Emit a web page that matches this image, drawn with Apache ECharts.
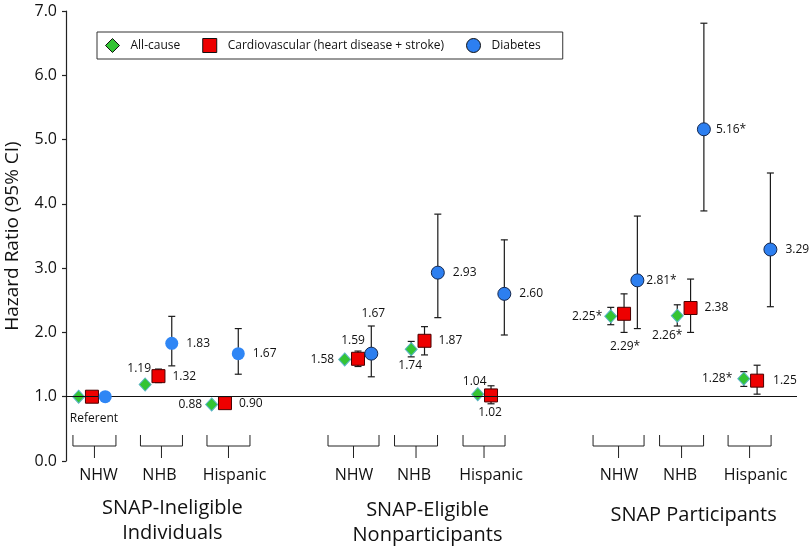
<!DOCTYPE html>
<html><head><meta charset="utf-8">
<script src="https://cdn.jsdelivr.net/npm/echarts@6/dist/echarts.min.js"></script>
<style>html,body{margin:0;padding:0;background:#fff}#c{width:810px;height:549px}</style>
</head><body><div id="c"></div>
<script>
// ---------- data ----------
const groups = ['SNAP-Ineligible\nIndividuals', 'SNAP-Eligible\nNonparticipants', 'SNAP Participants'];
const subgroups = ['NHW', 'NHB', 'Hispanic'];
const seriesNames = ['All-cause', 'Cardiovascular (heart disease + stroke)', 'Diabetes'];
const yTickLabels = ['0.0', '1.0', '2.0', '3.0', '4.0', '5.0', '6.0', '7.0'];
const referentText = 'Referent';

// cells ordered: group1 NHW, NHB, Hispanic, group2 ..., group3 ...
const allCause   = [1.00, 1.19, 0.88, 1.58, 1.74, 1.04, 2.25, 2.26, 1.28];
const allCauseLo = [null, null, null, null, 1.62, null, 2.12, 2.10, 1.16];
const allCauseHi = [null, null, null, null, 1.86, null, 2.39, 2.43, 1.39];
const allCauseSig = [0, 0, 0, 0, 0, 0, 1, 1, 1];

const cardio   = [1.00, 1.32, 0.90, 1.59, 1.87, 1.02, 2.29, 2.38, 1.25];
const cardioLo = [null, 1.22, null, 1.47, 1.65, 0.89, 2.00, 2.00, 1.04];
const cardioHi = [null, 1.43, null, 1.71, 2.09, 1.17, 2.60, 2.83, 1.49];
const cardioSig = [0, 0, 0, 0, 0, 0, 1, 0, 0];

const diabetes   = [1.00, 1.83, 1.67, 1.67, 2.93, 2.60, 2.81, 5.16, 3.29];
const diabetesLo = [null, 1.48, 1.35, 1.31, 2.23, 1.96, 2.06, 3.89, 2.40];
const diabetesHi = [null, 2.25, 2.06, 2.10, 3.84, 3.44, 3.81, 6.81, 4.48];
const diabetesSig = [0, 0, 0, 0, 0, 0, 1, 1, 0];

// ---------- layout (not data) ----------
const FONT = '"Open Sans", "Noto Sans", sans-serif';
const markerOffset = [-0.2, 0, 0.2];
// value-label placement per cell: [position, distance, dx, dy]
const allCauseLabelPos = [null, ['top', 3, -6, 0], ['left', 3, 0, 0], ['left', 4, 0, 0], ['bottom', 3, -1, 0], ['top', 0, -3, 0], ['left', 2, 0, 0], ['bottom', 7, -10, 0], ['left', 5, 0, 0]];
const cardioLabelPos = [['bottom', 9, 2, 0], ['right', 7, 0, 0], ['right', 7, 0, 0], ['top', 5, -5, 0], ['right', 7, 0, 0], ['bottom', 4, -1, 0], ['bottom', 20, 1, 0], ['right', 7, 0, 0], ['right', 9, 0, 0]];
const diabetesLabelPos = [null, ['right', 8, 0, 0], ['right', 8, 0, 0], ['top', 27, 2, 0], ['right', 8, 0, 0], ['right', 8, 0, 0], ['right', 2, 0, 0], ['right', 5, 0, 0], ['right', 8, 0, 0]];
const braceShiftPx = [2.5, 3, 3.5, -4.5, -8.5, -7, -5.5, -9, -7.5];
const braceHalfPx = [21.5, 21, 21.5, 25.5, 21.5, 21, 25.5, 22, 21.5];
const subLabelShiftPx = [6.5, 1, 9.5, -4, -10.5, 0, -5, -10.5, -1.5];
const groupLabelShiftPx = [14, 3, 3];
const groupLabelDy = [59.5, 61.5, 54];

function cellX(i) { return Math.floor(i / 3) * 4 + (i % 3); }

function scatterData(vals, sig, pos, sIdx) {
  return vals.map((v, i) => {
    const p = pos[i];
    let text = '';
    if (p) text = (sIdx === 1 && i === 0) ? referentText : v.toFixed(2) + (sig[i] ? '*' : '');
    const item = { value: [cellX(i) + markerOffset[sIdx], v] };
    if (p) {
      item.label = { show: true, formatter: text, position: p[0], distance: p[1], offset: [p[2], p[3]] };
    } else {
      item.label = { show: false };
    }
    if (sIdx === 2 && i < 3) item.itemStyle = { borderWidth: 0, color: '#2f86f5' };
    return item;
  });
}
function errData(lo, hi, sIdx) {
  const out = [];
  lo.forEach((l, i) => { if (l != null && hi[i] != null) out.push([cellX(i) + markerOffset[sIdx], l, hi[i]]); });
  return out;
}
function renderErr(params, api) {
  const x = api.value(0);
  const a = api.coord([x, api.value(1)]);
  const b = api.coord([x, api.value(2)]);
  const c = 3.5;
  const st = { stroke: '#1a1a1a', lineWidth: 1.2 };
  return { type: 'group', children: [
    { type: 'line', shape: { x1: a[0], y1: a[1], x2: b[0], y2: b[1] }, style: st },
    { type: 'line', shape: { x1: a[0] - c, y1: a[1], x2: a[0] + c, y2: a[1] }, style: st },
    { type: 'line', shape: { x1: b[0] - c, y1: b[1], x2: b[0] + c, y2: b[1] }, style: st }
  ]};
}
function renderBrace(params, api) {
  const i = api.value(1);
  const p = api.coord([api.value(0), 0]);
  const cx = p[0] + braceShiftPx[i], y0 = p[1], h = braceHalfPx[i];
  const st = { stroke: '#222', lineWidth: 1 };
  return { type: 'group', children: [
    { type: 'polyline', shape: { points: [[cx - h, y0 - 26], [cx - h, y0 - 15], [cx + h, y0 - 15], [cx + h, y0 - 26]] }, style: Object.assign({ fill: null }, st) },
    { type: 'line', shape: { x1: cx, y1: y0 - 15, x2: cx, y2: y0 - 3 }, style: st },
    { type: 'text', x: p[0] + subLabelShiftPx[i], y: y0 + 14, style: { text: subgroups[i % 3], fontFamily: FONT, fontSize: 16, fill: '#111', align: 'center', verticalAlign: 'middle' } }
  ]};
}
function renderGroup(params, api) {
  const g = api.value(1);
  const p = api.coord([api.value(0), 0]);
  return { type: 'text', x: p[0] + groupLabelShiftPx[g], y: p[1] + groupLabelDy[g], style: { text: groups[g], fontFamily: FONT, fontSize: 20, lineHeight: 25, fill: '#111', align: 'center', verticalAlign: 'middle' } };
}

const markerStyles = [
  { symbol: 'diamond', symbolSize: [12, 13], itemStyle: { color: '#33c433', borderColor: '#58b4c4', borderWidth: 1, opacity: 1 } },
  { symbol: 'rect', symbolSize: 13, itemStyle: { color: '#ee0000', borderColor: '#4a0000', borderWidth: 1, opacity: 1 } },
  { symbol: 'circle', symbolSize: 13, itemStyle: { color: '#2d7ff0', borderColor: '#15284f', borderWidth: 1, opacity: 1 } }
];
const vals = [allCause, cardio, diabetes];
const los = [allCauseLo, cardioLo, diabetesLo];
const his = [allCauseHi, cardioHi, diabetesHi];
const sigs = [allCauseSig, cardioSig, diabetesSig];
const poss = [allCauseLabelPos, cardioLabelPos, diabetesLabelPos];

const series = [];
series.push({
  type: 'custom', name: 'refline', z: 1, data: [],
  renderItem: () => null,
  markLine: { silent: true, symbol: 'none', label: { show: false }, lineStyle: { color: '#111', width: 1.2, type: 'solid' }, data: [{ yAxis: 1 }] }
});
for (let s = 0; s < 3; s++) {
  series.push({ type: 'custom', name: 'ci' + s, z: 2, renderItem: renderErr, encode: { x: 0, y: [1, 2] }, data: errData(los[s], his[s], s) });
}
for (let s = 0; s < 3; s++) {
  series.push(Object.assign({
    type: 'scatter', name: seriesNames[s], z: 3 + s,
    label: { color: '#111', fontSize: 12, fontFamily: FONT },
    data: scatterData(vals[s], sigs[s], poss[s], s)
  }, markerStyles[s]));
}
series.push({ type: 'custom', name: 'braces', z: 1, clip: false, renderItem: renderBrace, encode: { x: 0 },
  data: subgroups.concat(subgroups, subgroups).map((_, i) => [cellX(i), i]) });
series.push({ type: 'custom', name: 'groups', z: 1, clip: false, renderItem: renderGroup, encode: { x: 0 },
  data: groups.map((_, g) => [g * 4 + 1, g]) });

const chart = echarts.init(document.getElementById('c'));
chart.setOption({
  animation: false,
  backgroundColor: '#fff',
  textStyle: { fontFamily: FONT },
  grid: { left: 66, right: 13, top: 11, bottom: 88, containLabel: false, outerBoundsMode: 'none' },
  xAxis: { type: 'value', min: -0.39, max: 10.6, show: false },
  yAxis: {
    type: 'value', min: 0, max: 7, interval: 1,
    axisLine: { show: true, onZero: false, lineStyle: { color: '#222', width: 1.2 } },
    axisTick: { show: true, length: 4, lineStyle: { color: '#222', width: 1.2 } },
    axisLabel: { formatter: v => yTickLabels[Math.round(v)], fontSize: 16, color: '#111', fontFamily: FONT, margin: 9 },
    splitLine: { show: false },
    name: 'Hazard Ratio (95% CI)', nameLocation: 'middle', nameRotate: 90, nameGap: 44,
    nameTextStyle: { fontSize: 19, color: '#111', fontFamily: FONT }
  },
  legend: {
    left: 97, top: 32, itemWidth: 14, itemHeight: 14, itemGap: 22,
    padding: [6, 22, 6, 8], borderColor: '#333', borderWidth: 1,
    textStyle: { fontSize: 12, color: '#111', fontFamily: FONT, padding: [0, 0, 0, 6] },
    data: seriesNames.map((n, s) => ({ name: n, icon: markerStyles[s].symbol, itemStyle: { borderColor: '#111', borderWidth: 1, opacity: 1 } }))
  },
  series: series
});
</script>
</body></html>
